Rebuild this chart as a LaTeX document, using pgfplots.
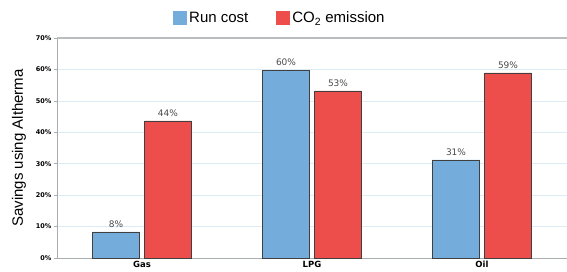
\documentclass[border=0pt]{standalone}
\usepackage{fontspec}
\setmainfont{Liberation Sans}
\newfontfamily\dejavu{DejaVu Sans}
\usepackage{pgfplots}
\pgfplotsset{compat=1.18}
\definecolor{runblue}{HTML}{74ADDC}
\definecolor{co2red}{HTML}{EE4E4B}
\definecolor{gridc}{HTML}{DDEBF5}
\definecolor{axc}{HTML}{A8ADB0}
\definecolor{lblc}{HTML}{4A4A4A}
\begin{document}
\begin{tikzpicture}
\useasboundingbox (-57pt,-13pt) rectangle (510pt,258pt);
\begin{axis}[
  at={(0pt,0pt)}, anchor=south west,
  scale only axis, width=510pt, height=220pt,
  ybar=5pt, bar width=47pt,
  xmin=-0.5, xmax=2.5, ymin=0, ymax=70,
  xtick={0,1,2}, xticklabels={Gas,LPG,Oil},
  ytick={0,10,20,30,40,50,60,70},
  yticklabels={0\%,10\%,20\%,30\%,40\%,50\%,60\%,70\%},
  x tick label style={font=\dejavu\bfseries\fontsize{8.5}{9}\selectfont, yshift=3.5pt},
  y tick label style={font=\dejavu\bfseries\fontsize{6.5}{7}\selectfont, xshift=1pt},
  xtick style={draw=none},
  ytick style={draw=axc, line width=0.6pt},
  tick align=outside, major tick length=3pt,
  axis x line*=bottom, axis y line*=left,
  axis line style={draw=axc, line width=0.8pt, -},
  ymajorgrids, grid style={draw=gridc, line width=0.6pt},
  ylabel={Savings using Altherma},
  ylabel style={font=\fontsize{15}{16}\selectfont, yshift=3pt},
  nodes near coords={\pgfmathprintnumber[fixed,precision=0,assume math mode=true]{\pgfplotspointmeta}\%},
  every node near coord/.append style={font=\dejavu\fontsize{9}{10}\selectfont, text=lblc, yshift=1pt},
  legend style={at={(0.437,1.09)}, anchor=center, draw=none, fill=none,
    legend columns=2, font=\fontsize{15}{16}\selectfont,
    /tikz/every even column/.append style={column sep=26pt}},
  legend image code/.code={\fill[#1,draw=none] (-4pt,-7pt) rectangle (10pt,7pt);},
]
\addplot[fill=runblue, draw=black!75, line width=0.6pt] coordinates {(0,8.3) (1,59.8) (2,31.2)};
\addplot[fill=co2red, draw=black!75, line width=0.6pt] coordinates {(0,43.6) (1,53.2) (2,58.9)};
\legend{Run cost, CO\textsubscript{2} emission}
\draw[draw=axc!80, line width=1.4pt] (rel axis cs:0,1) -- (rel axis cs:1,1);
\end{axis}
\end{tikzpicture}
\end{document}
